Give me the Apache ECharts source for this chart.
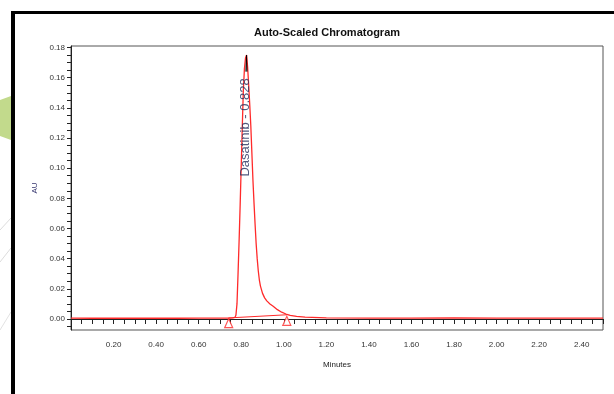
<!DOCTYPE html>
<html>
<head>
<meta charset="utf-8">
<script src="https://cdn.jsdelivr.net/npm/echarts@6/dist/echarts.min.js"></script>
<style>
  html, body { margin: 0; padding: 0; background: #fff; }
  #chart { width: 614px; height: 394px; }
</style>
</head>
<body>
<div id="chart"></div>
<script>
// trace (minutes, AU)
const minutes = [0.00, 0.10, 0.20, 0.30, 0.40, 0.50, 0.60, 0.70, 0.74, 0.76,
  0.770, 0.775, 0.780, 0.785, 0.790, 0.795, 0.800, 0.805, 0.810, 0.815,
  0.820, 0.825, 0.830, 0.835, 0.840, 0.845, 0.850, 0.855, 0.860, 0.865,
  0.870, 0.875, 0.880, 0.885, 0.890, 0.90, 0.91, 0.92, 0.935, 0.95,
  0.97, 0.99, 1.01, 1.03, 1.06, 1.10, 1.20, 1.40, 1.60, 1.80,
  2.00, 2.20, 2.40, 2.50];
const au = [0.0006, 0.0005, 0.0006, 0.0005, 0.0006, 0.0005, 0.0006, 0.0006, 0.0006, 0.0007,
  0.0010, 0.0025, 0.010, 0.030, 0.052, 0.076, 0.102, 0.128, 0.152, 0.166,
  0.173, 0.175, 0.167, 0.155, 0.142, 0.128, 0.110, 0.092, 0.077, 0.063,
  0.050, 0.040, 0.032, 0.026, 0.022, 0.017, 0.014, 0.012, 0.010, 0.0085,
  0.0062, 0.0045, 0.0033, 0.0024, 0.0017, 0.0012, 0.0008, 0.0006, 0.0006, 0.0007,
  0.0006, 0.0006, 0.0006, 0.0006];

// black apex of the raw trace
const apexMin = [0.822, 0.825, 0.827];
const apexAu = [0.164, 0.175, 0.164];

// integration start / end marks and the drawn baseline between them
const markMin = [0.741, 1.014];
const markAu = [-0.0028, -0.0012];
const baseMin = [0.741, 1.014];
const baseAu = [0.0007, 0.0028];

const peakName = 'Dasatinib - 0.828';
const peakPos = [0.822, 0.127];

const xLabels = [0.20, 0.40, 0.60, 0.80, 1.00, 1.20, 1.40, 1.60, 1.80, 2.00, 2.20, 2.40];
const yLabels = [0.00, 0.02, 0.04, 0.06, 0.08, 0.10, 0.12, 0.14, 0.16, 0.18];

const xTicks = [];
for (let i = 1; i <= 50; i++) xTicks.push(+(i * 0.05).toFixed(2));
const yTicks = [];
for (let i = -1; i <= 36; i++) yTicks.push(+(i * 0.005).toFixed(3));

const zip = (a, b) => a.map((v, i) => [v, b[i]]);

const red = '#ff2a2a';
const font = 'Liberation Sans, Arial, sans-serif';

const chart = echarts.init(document.getElementById('chart'));

chart.setOption({
  animation: false,
  backgroundColor: '#fff',
  title: {
    text: 'Auto-Scaled Chromatogram',
    left: 322, top: 22, textAlign: 'center',
    textStyle: { fontFamily: font, fontSize: 11, fontWeight: 'bold', color: '#111' }
  },
  grid: {
    left: 71, right: 11, top: 46, bottom: 64,
    show: true, borderColor: '#555', borderWidth: 1
  },
  xAxis: {
    type: 'value', min: 0, max: 2.5,
    name: 'Minutes', nameLocation: 'middle', nameGap: 31,
    nameTextStyle: { fontFamily: font, fontSize: 8, color: '#222' },
    axisLine: { lineStyle: { color: '#222', width: 1 } },
    axisTick: { customValues: xTicks, length: 5, lineStyle: { color: '#222' } },
    axisLabel: {
      customValues: xLabels, margin: 11, fontFamily: font, fontSize: 8, color: '#333',
      formatter: v => v.toFixed(2)
    },
    splitLine: { show: false }
  },
  yAxis: {
    type: 'value', min: -0.0073, max: 0.181,
    name: 'AU', nameLocation: 'middle', nameGap: 28,
    nameTextStyle: { fontFamily: font, fontSize: 8, color: '#34346e' },
    axisLine: { lineStyle: { color: '#222', width: 1 } },
    axisTick: { customValues: yTicks, length: 4, lineStyle: { color: '#222' } },
    axisLabel: {
      customValues: yLabels, margin: 6, fontFamily: font, fontSize: 8, color: '#333',
      formatter: v => v.toFixed(2)
    },
    splitLine: { show: false }
  },
  series: [
    {
      type: 'line', data: zip(minutes, au), symbol: 'none', z: 3,
      lineStyle: { color: red, width: 1.3 }
    },
    {
      type: 'line', data: zip(apexMin, apexAu), symbol: 'none', z: 4,
      lineStyle: { color: '#000', width: 1 }
    },
    {
      type: 'line', data: zip(baseMin, baseAu), symbol: 'none', z: 3,
      lineStyle: { color: red, width: 1 }
    },
    {
      type: 'scatter', data: zip(markMin, markAu), symbol: 'triangle',
      symbolSize: [8, 9], z: 5,
      itemStyle: { color: '#fff', borderColor: red, borderWidth: 1.2 }
    },
    {
      type: 'scatter', data: [peakPos], symbolSize: 0, z: 6,
      label: {
        show: true, position: 'inside', rotate: 90,
        formatter: peakName,
        fontFamily: font, fontSize: 13, color: '#26305e'
      }
    }
  ],
  graphic: [
    // backdrop decoration at the left edge
    { type: 'polygon', shape: { points: [[0, 100], [11, 96], [11, 140], [0, 136]] },
      style: { fill: '#c2da8c' }, z: -1 },
    { type: 'line', shape: { x1: 0, y1: 230, x2: 11, y2: 218 },
      style: { stroke: '#dcdcdc', lineWidth: 1 }, z: -1 },
    { type: 'line', shape: { x1: 0, y1: 262, x2: 11, y2: 248 },
      style: { stroke: '#dcdcdc', lineWidth: 1 }, z: -1 },
    { type: 'line', shape: { x1: 0, y1: 330, x2: 11, y2: 312 },
      style: { stroke: '#e2e2e2', lineWidth: 1 }, z: -1 },
    // black frame
    { type: 'rect', shape: { x: 11, y: 11, width: 603, height: 3 },
      style: { fill: '#000' }, z: 10 },
    { type: 'rect', shape: { x: 11, y: 11, width: 4, height: 383 },
      style: { fill: '#000' }, z: 10 }
  ]
});

window.addEventListener('resize', () => chart.resize());
</script>
</body>
</html>
